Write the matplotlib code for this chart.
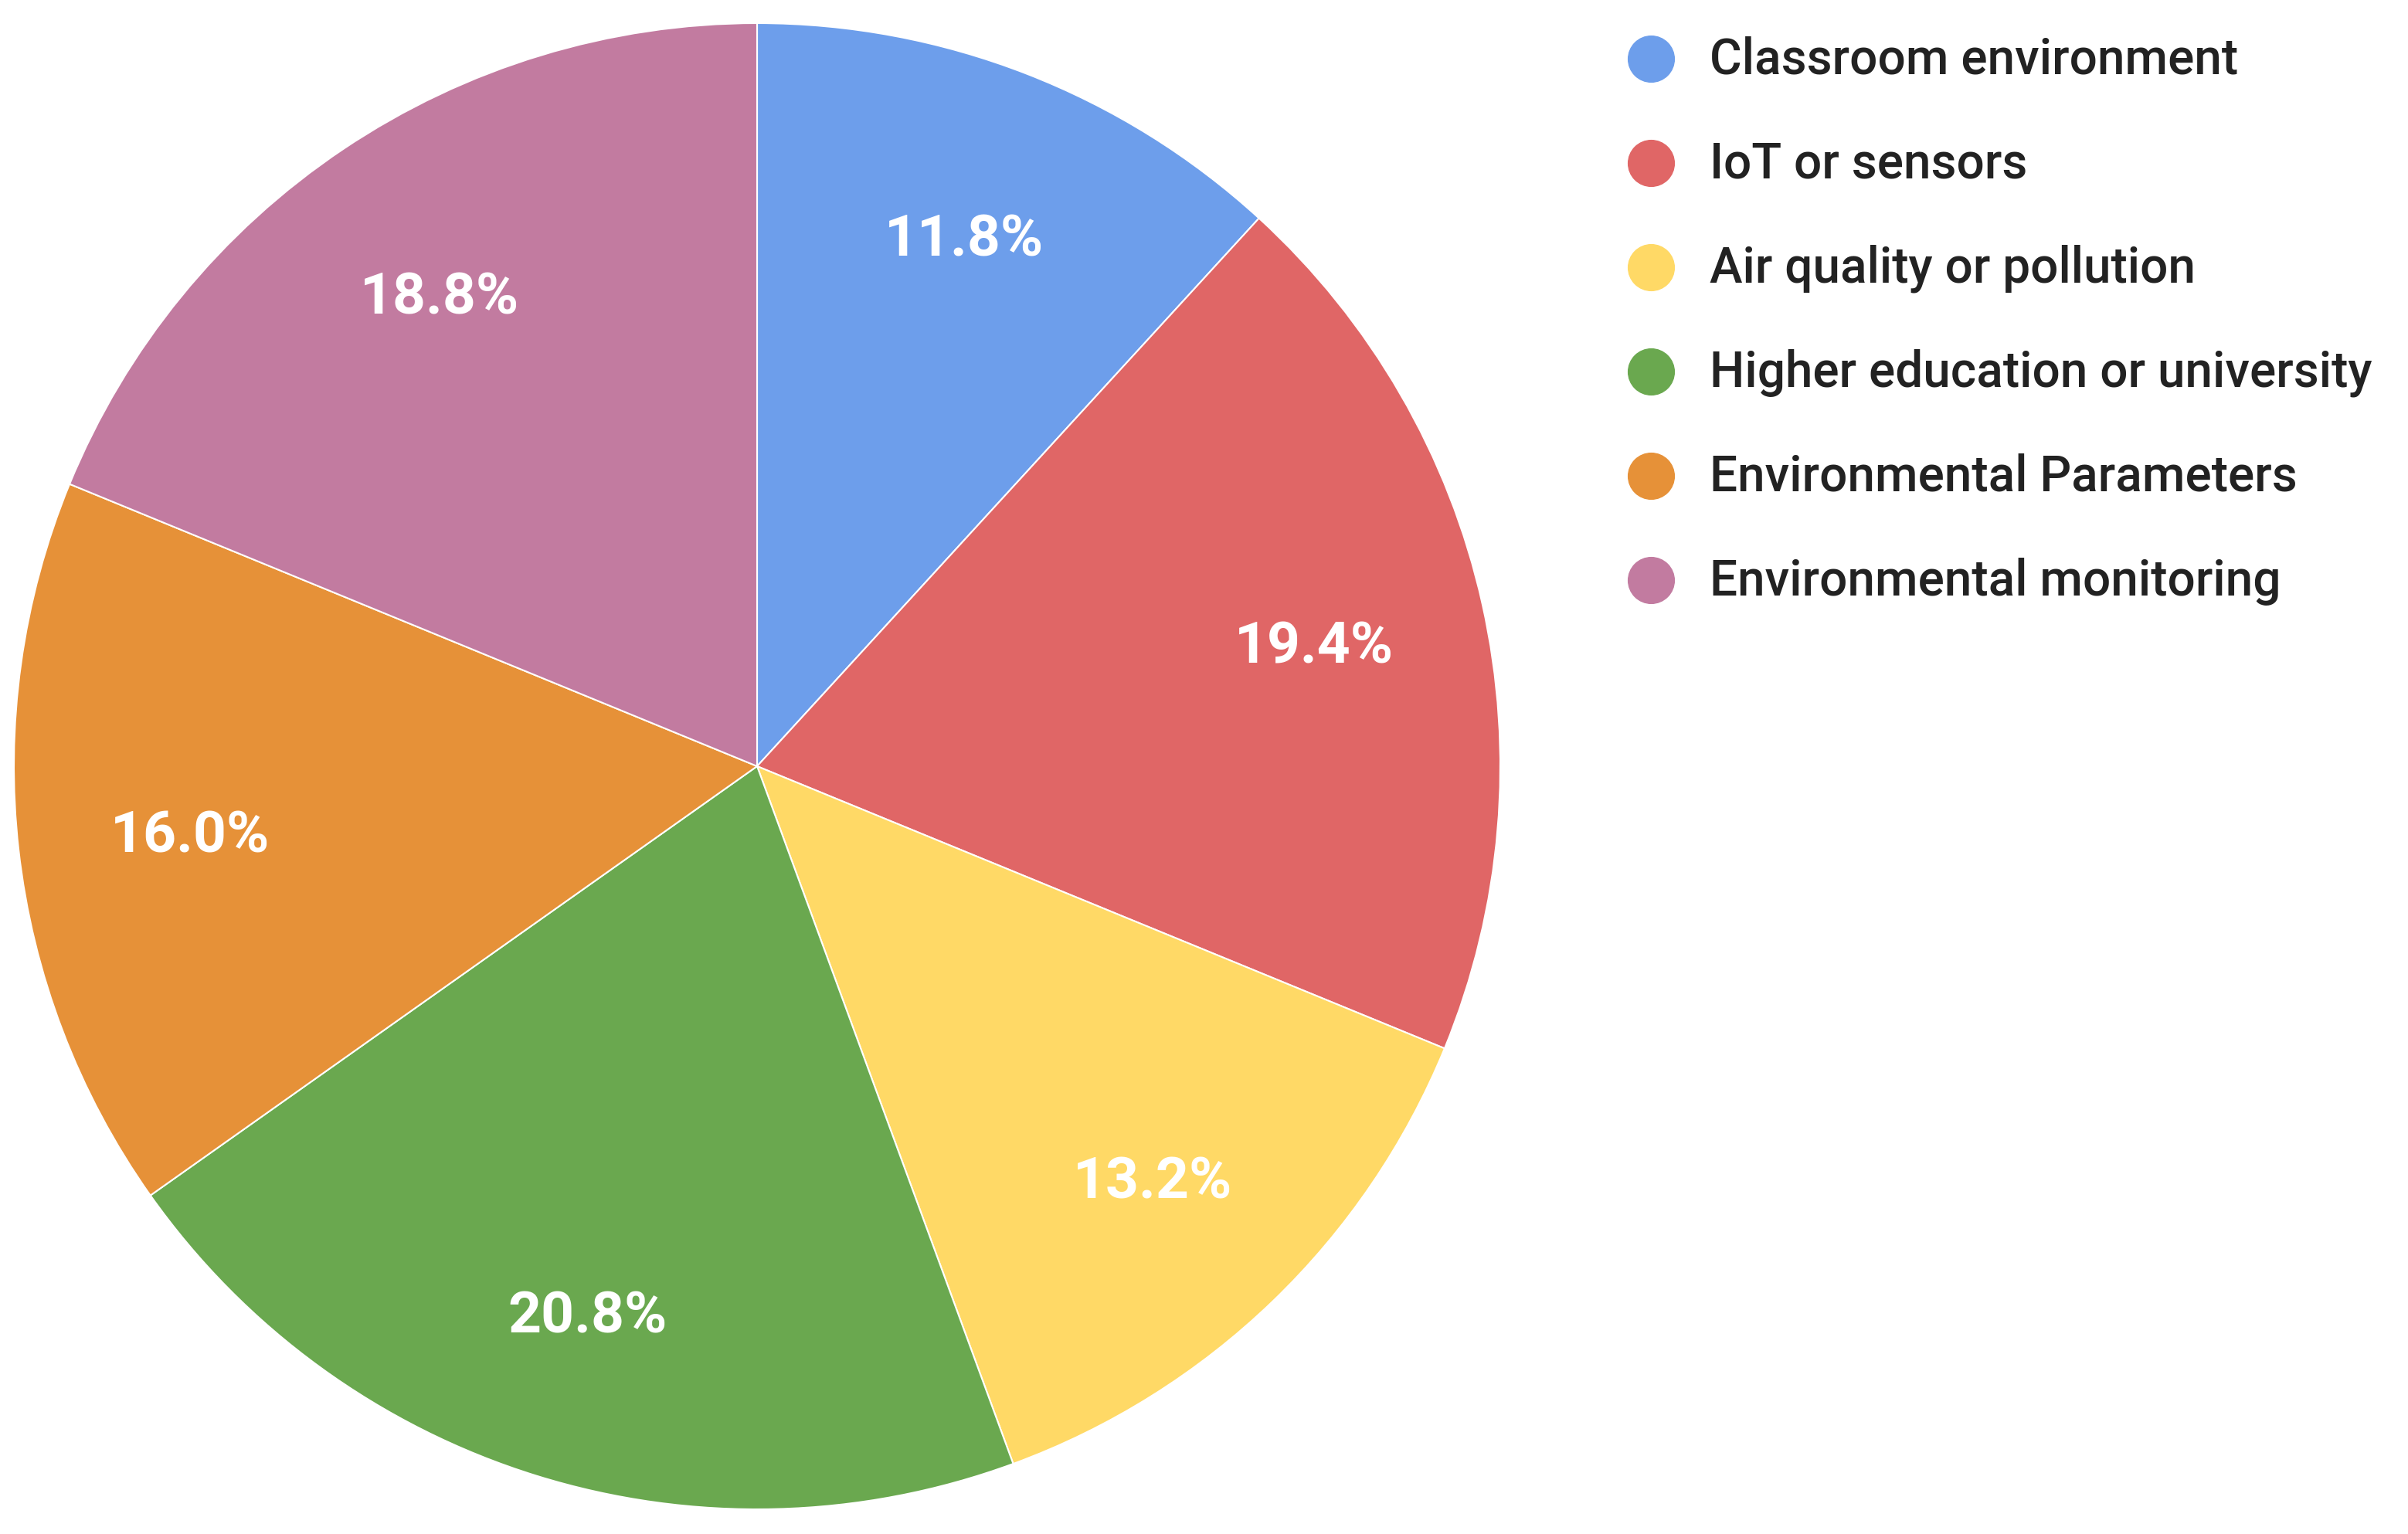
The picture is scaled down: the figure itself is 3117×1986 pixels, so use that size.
import matplotlib
matplotlib.use("Agg")
import matplotlib.pyplot as plt
from matplotlib.lines import Line2D

categories = ["Classroom environment", "IoT or sensors", "Air quality or pollution",
              "Higher education or university", "Environmental Parameters",
              "Environmental monitoring"]
values = [11.8, 19.4, 13.2, 20.8, 16.0, 18.8]
colors = ["#6D9EEB", "#E06666", "#FFD966", "#6AA84F", "#E69138", "#C27BA0"]

plt.rcParams['font.family'] = ['Roboto', 'DejaVu Sans']

W, H = 3117, 1986
fig = plt.figure(figsize=(W / 100, H / 100), dpi=100)
cx, cy, r = 980, 992, 962
ax = fig.add_axes([(cx - r) / W, (H - cy - r) / H, 2 * r / W, 2 * r / H])
wedges, texts, autotexts = ax.pie(values, colors=colors, startangle=90, counterclock=False,
                                  autopct='%1.1f%%', pctdistance=0.768, radius=1,
                                  wedgeprops=dict(linewidth=1.5, edgecolor='white'),
                                  textprops=dict(color='white', fontsize=54, fontweight='bold'))
for t in autotexts:
    x, y = t.get_position()
    t.set_position((x, y - 0.008))
ax.set_xlim(-1, 1)
ax.set_ylim(-1, 1)
ax.set_aspect('equal')
ax.axis('off')

for i, (cat, col) in enumerate(zip(categories, colors)):
    y = 76 + i * 135
    fig.add_artist(Line2D([2137 / W], [1 - y / H], marker='o', markersize=43,
                          color=col, linestyle='none', transform=fig.transFigure))
    fig.text(2213 / W, 1 - (y + 2) / H, cat, fontsize=46, color='#222222',
             va='center', ha='left', fontweight='medium')

fig.savefig("out.png", dpi=100, facecolor='white')
